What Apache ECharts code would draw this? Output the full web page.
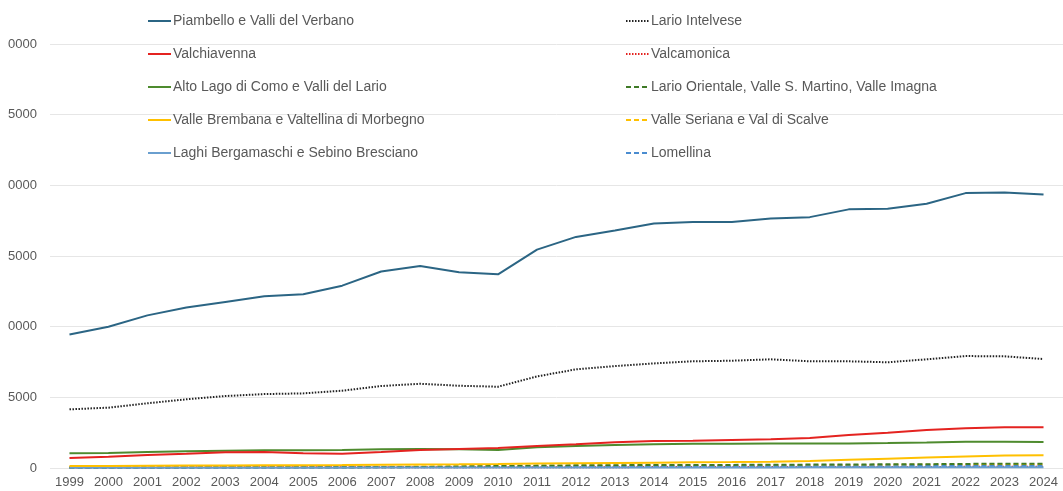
<!DOCTYPE html>
<html>
<head>
<meta charset="utf-8">
<script src="https://cdn.jsdelivr.net/npm/echarts@6/dist/echarts.min.js"></script>
<style>
html,body{margin:0;padding:0;background:#fff;}
#chart{width:1063px;height:491px;}
</style>
</head>
<body>
<div id="chart"></div>
<script>
var years = ['1999','2000','2001','2002','2003','2004','2005','2006','2007','2008','2009','2010','2011','2012','2013','2014','2015','2016','2017','2018','2019','2020','2021','2022','2023','2024'];
var yTickLabels = ['0','5000','0000','5000','0000','5000','0000'];

var piambello = [9450,10000,10800,11350,11750,12150,12300,12900,13900,14300,13850,13700,15450,16350,16800,17300,17400,17400,17650,17750,18300,18350,18700,19450,19500,19350];
var larioIntelvese = [4150,4270,4580,4860,5090,5230,5280,5470,5800,5960,5820,5750,6480,6980,7210,7400,7550,7590,7690,7550,7550,7480,7690,7920,7900,7710];
var valchiavenna = [710,800,920,1010,1110,1130,1040,1010,1130,1270,1340,1410,1550,1680,1820,1910,1930,1980,2030,2120,2330,2500,2690,2810,2880,2880];
var valcamonica = [40,40,40,45,45,45,50,50,50,55,55,55,60,60,60,65,65,65,70,70,70,75,75,80,80,80];
var altoLago = [1040,1060,1130,1180,1220,1250,1250,1270,1320,1340,1330,1270,1460,1560,1630,1680,1720,1720,1740,1740,1740,1770,1810,1860,1860,1840];
var larioOrientale = [20,20,25,25,30,30,35,40,50,70,110,140,170,190,200,210,215,220,230,240,250,260,270,290,300,300];
var valleBrembana = [140,150,160,170,180,190,200,210,230,250,260,280,320,340,360,380,400,420,450,500,580,660,740,820,880,900];
var valleSeriana = [60,60,65,70,70,75,80,80,90,100,110,120,140,150,160,170,180,180,190,200,210,220,230,240,250,250];
var laghiBergamaschi = [20,20,20,20,25,25,25,25,30,30,30,30,35,35,35,40,40,40,40,45,45,45,50,50,50,50];
var lomellina = [30,30,35,35,40,40,45,45,50,55,60,70,90,100,105,110,115,115,120,125,125,130,135,140,140,140];

var cDark = '#2B6584', cRed = '#E42320', cGreen = '#4E8B2E', cYellow = '#FFC000', cLightBlue = '#6A9FCF', cBlue = '#4A8CD0';
var txt = '#595959';
var font = '"Liberation Sans", Arial, sans-serif';

function mk(name, data, color, type, width) {
  return {
    name: name, type: 'line', data: data, symbol: 'none', smooth: false,
    lineStyle: {color: color, width: width || 2, type: type || 'solid'},
    itemStyle: {color: color},
    emphasis: {disabled: true}, animation: false
  };
}

var series = [
  mk('Valcamonica', valcamonica, cRed, [1.5,1.5]),
  mk('Valle Seriana e Val di Scalve', valleSeriana, cYellow, [5,3]),
  mk('Lomellina', lomellina, cBlue, [5,3]),
  mk('Lario Orientale, Valle S. Martino, Valle Imagna', larioOrientale, '#3F7A27', [5,3]),
  mk('Laghi Bergamaschi e Sebino Bresciano', laghiBergamaschi, cLightBlue, 'solid'),
  mk('Valle Brembana e Valtellina di Morbegno', valleBrembana, cYellow, 'solid'),
  mk('Alto Lago di Como e Valli del Lario', altoLago, cGreen, 'solid'),
  mk('Valchiavenna', valchiavenna, cRed, 'solid'),
  mk('Lario Intelvese', larioIntelvese, '#222222', [1.5,1.5]),
  mk('Piambello e Valli del Verbano', piambello, cDark, 'solid')
];

var legendCommon = {
  orient: 'vertical', top: 14, padding: 0, itemWidth: 23, itemHeight: 14, itemGap: 19,
  itemStyle: {opacity: 0},
  textStyle: {color: txt, fontSize: 14, fontFamily: font, padding: [0,0,0,-3]},
  selectedMode: false
};

var chart = echarts.init(document.getElementById('chart'), null, {renderer: 'canvas'});
chart.setOption({
  backgroundColor: '#ffffff',
  animation: false,
  legend: [
    Object.assign({}, legendCommon, {left: 147, data: ['Piambello e Valli del Verbano','Valchiavenna','Alto Lago di Como e Valli del Lario','Valle Brembana e Valtellina di Morbegno','Laghi Bergamaschi e Sebino Bresciano']}),
    Object.assign({}, legendCommon, {left: 625, data: ['Lario Intelvese','Valcamonica','Lario Orientale, Valle S. Martino, Valle Imagna','Valle Seriana e Val di Scalve','Lomellina']})
  ],
  grid: {left: 50, width: 1014, top: 44, bottom: 23, containLabel: false},
  xAxis: {
    type: 'category', data: years, boundaryGap: true,
    axisLine: {show: false}, axisTick: {show: false},
    axisLabel: {color: txt, fontSize: 13, fontFamily: font, margin: 8, interval: 0}
  },
  yAxis: {
    type: 'value', min: 0, max: 30000, interval: 5000,
    axisLine: {show: false}, axisTick: {show: false},
    splitLine: {lineStyle: {color: '#e6e6e6', width: 1}},
    axisLabel: {
      color: txt, fontSize: 13, fontFamily: font, margin: 13,
      formatter: function (v) { return yTickLabels[Math.round(v / 5000)]; }
    }
  },
  series: series
});
</script>
</body>
</html>
